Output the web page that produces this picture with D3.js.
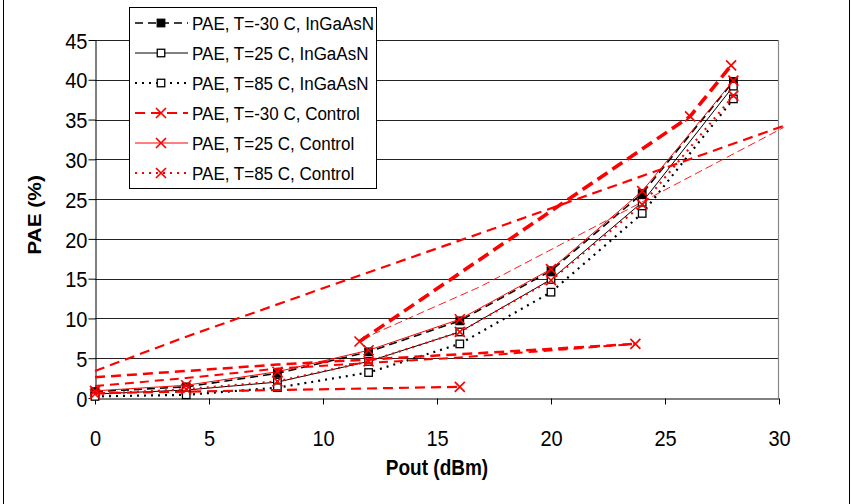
<!DOCTYPE html>
<html>
<head>
<meta charset="utf-8">
<script src="https://cdn.jsdelivr.net/npm/d3@7"></script>
<style>
body { margin: 0; background: #fff; }
svg { display: block; }
</style>
</head>
<body>
<script>
// data
var pout = [0, 4, 8, 12, 16, 20, 24, 28];
var paeInM30 = [0.8, 1.4, 3.1, 5.8, 9.7, 16.0, 25.7, 39.8];
var paeIn25 = [0.5, 1.0, 2.0, 4.6, 8.3, 14.9, 24.6, 39.2];
var paeIn85 = [0.2, 0.4, 1.3, 3.2, 6.8, 13.3, 23.2, 37.6];
var paeCtl25 = [0.9, 1.6, 3.3, 6.0, 9.9, 16.2, 26.0, 39.9];
var paeCtl85 = [0.5, 1.1, 2.1, 4.6, 8.3, 14.8, 24.3, 38.0];

// -30 C control: pieces that are drawn with markers
var ctlM30HighX = [11.6, 26.1, 27.9];
var ctlM30HighY = [7.1, 35.4, 41.8];
var ctlM30LowX = [0, 8, 16];
var ctlM30LowY = [0.6, 1.0, 1.4];
var ctlM30MidX = [0, 8, 16, 23.7];
var ctlM30MidY = [2.6, 4.2, 5.5, 6.8];

// red dashed lines without markers
var trendAX = [0, 4, 10, 17, 30.2];
var trendAY = [3.4, 7.7, 13.8, 20.8, 34.2];
var trendBX = [11.7, 16.9, 23.9, 30.2];
var trendBY = [7.4, 14.0, 24.5, 34.0];
var trendCX = [0, 4, 8, 16, 23.7];
var trendCY = [1.5, 2.5, 3.7, 5.1, 6.8];

var xTicks = [0, 5, 10, 15, 20, 25, 30];
var yTicks = [0, 5, 10, 15, 20, 25, 30, 35, 40, 45];
var legendLabels = [
    'PAE, T=-30 C, InGaAsN',
    'PAE, T=25 C, InGaAsN',
    'PAE, T=85 C, InGaAsN',
    'PAE, T=-30 C, Control',
    'PAE, T=25 C, Control',
    'PAE, T=85 C, Control'
];

var width = 853;
var height = 504;
var stretch = 1.13; // the picture's text is a bit taller than normal
var font = 'Liberation Sans, Arial, sans-serif';

var svg = d3.select('body').append('svg')
    .attr('width', width).attr('height', height)
    .style('font-family', font);

var x = d3.scaleLinear().domain([0, 30]).range([95, 779]);
var y = d3.scaleLinear().domain([0, 45]).range([398, 40]);

function zip(xs, ys) {
    return xs.map(function (d, i) { return [d, ys[i]]; });
}

// outer frame
svg.append('rect')
    .attr('x', 3.5).attr('y', -5)
    .attr('width', 846).attr('height', height + 10)
    .attr('fill', '#fff').attr('stroke', '#000').attr('stroke-width', 1);

// gridlines
svg.append('g').selectAll('line')
    .data(yTicks.filter(function (d) { return d > 0; }))
    .enter().append('line')
    .attr('x1', x(0)).attr('x2', x(30))
    .attr('y1', function (d) { return Math.round(y(d)) + 0.5; })
    .attr('y2', function (d) { return Math.round(y(d)) + 0.5; })
    .attr('stroke', '#222').attr('stroke-width', 1);

// right edge of plot area
svg.append('line')
    .attr('x1', 778.5).attr('x2', 778.5)
    .attr('y1', 40).attr('y2', 398)
    .attr('stroke', '#888').attr('stroke-width', 1.2);

// axes
var xAxis = svg.append('g')
    .attr('transform', 'translate(0,398.5)')
    .call(d3.axisBottom(x).tickValues(xTicks).tickSize(6).tickSizeOuter(0).tickFormat(d3.format('d')));
var yAxis = svg.append('g')
    .attr('transform', 'translate(95.5,0)')
    .call(d3.axisLeft(y).tickValues(yTicks).tickSize(7).tickSizeOuter(0).tickFormat(d3.format('d')));

[xAxis, yAxis].forEach(function (a) {
    a.selectAll('path,line').attr('stroke', '#000').attr('stroke-width', 1);
    a.selectAll('text').attr('font-family', font).attr('font-size', 20).attr('fill', '#000');
});
xAxis.selectAll('text')
    .attr('y', 0).attr('dy', '0.71em')
    .attr('transform', 'translate(0,31) scale(1,' + stretch + ')');
yAxis.selectAll('text')
    .attr('x', 0).attr('dy', '0.36em')
    .attr('transform', 'translate(-8,0) scale(1,' + stretch + ')');

// axis titles
svg.append('text')
    .attr('transform', 'translate(437,467) scale(1,' + stretch + ')')
    .attr('text-anchor', 'middle').attr('dy', '0.36em')
    .attr('font-weight', 'bold').attr('font-size', 19)
    .text('Pout (dBm)');
svg.append('text')
    .attr('transform', 'translate(34,215) rotate(-90) scale(' + stretch + ',1)')
    .attr('text-anchor', 'middle').attr('dy', '0.36em')
    .attr('font-weight', 'bold').attr('font-size', 18.5)
    .text('PAE (%)');

// series styles
var black = '#000';
var red = '#ff0000';
var series = [
    { data: zip(pout, paeInM30), color: black, width: 1.6, dash: '8,5', marker: 'sqFilled' },
    { data: zip(pout, paeIn25), color: black, width: 1, dash: null, marker: 'sqOpen' },
    { data: zip(pout, paeIn85), color: black, width: 2.2, dash: '2,5', marker: 'sqOpen' },
    { data: zip(pout, paeCtl25), color: red, width: 1, dash: null, marker: 'cross' },
    { data: zip(pout, paeCtl85), color: red, width: 2.2, dash: '2,5', marker: 'cross' }
];
var extras = [
    { data: zip(trendAX, trendAY), color: red, width: 2.2, dash: '10,6', marker: null },
    { data: zip(trendBX, trendBY), color: red, width: 0.9, dash: '8,4', marker: null },
    { data: zip(trendCX, trendCY), color: red, width: 2, dash: '9,6', marker: null },
    { data: zip(ctlM30LowX, ctlM30LowY), color: red, width: 2.2, dash: '10,6', marker: 'crossEnd' },
    { data: zip(ctlM30MidX, ctlM30MidY), color: red, width: 2.5, dash: '10,6', marker: 'crossEnd' },
    { data: zip(ctlM30HighX, ctlM30HighY), color: red, width: 3.6, dash: '12,6', marker: 'cross' }
];

var line = d3.line()
    .x(function (d) { return x(d[0]); })
    .y(function (d) { return y(d[1]); });

function drawMarker(g, kind, cx, cy) {
    if (kind === 'sqFilled' || kind === 'sqOpen') {
        g.append('rect')
            .attr('x', cx - 3.75).attr('y', cy - 3.75)
            .attr('width', 7.5).attr('height', 7.5)
            .attr('fill', kind === 'sqFilled' ? '#000' : '#fff')
            .attr('stroke', '#000').attr('stroke-width', 1.3);
    } else {
        var s = 5;
        g.append('path')
            .attr('d', 'M' + (cx - s) + ',' + (cy - s) + 'L' + (cx + s) + ',' + (cy + s) +
                'M' + (cx - s) + ',' + (cy + s) + 'L' + (cx + s) + ',' + (cy - s))
            .attr('stroke', red).attr('stroke-width', 1.7).attr('fill', 'none');
    }
}

function drawSeries(s) {
    var g = svg.append('g');
    g.append('path')
        .attr('d', line(s.data))
        .attr('fill', 'none')
        .attr('stroke', s.color)
        .attr('stroke-width', s.width)
        .attr('stroke-dasharray', s.dash);
    if (!s.marker) return;
    var pts = s.marker === 'crossEnd' ? s.data.slice(-1) : s.data;
    pts.forEach(function (d) {
        drawMarker(g, s.marker === 'crossEnd' ? 'cross' : s.marker, x(d[0]), y(d[1]));
    });
}

series.slice(0, 3).forEach(drawSeries);
extras.forEach(drawSeries);
series.slice(3).forEach(drawSeries);

// legend
var legendStyles = [
    { color: black, width: 1.6, dash: '8,5', marker: 'sqFilled' },
    { color: black, width: 1, dash: null, marker: 'sqOpen' },
    { color: black, width: 2.2, dash: '2,5', marker: 'sqOpen' },
    { color: red, width: 2.2, dash: '10,6', marker: 'cross' },
    { color: red, width: 1, dash: null, marker: 'cross' },
    { color: red, width: 2.2, dash: '2,5', marker: 'cross' }
];
var legend = svg.append('g');
legend.append('rect')
    .attr('x', 129.5).attr('y', 7.5)
    .attr('width', 247).attr('height', 181)
    .attr('fill', '#fff').attr('stroke', '#000').attr('stroke-width', 1);
legendLabels.forEach(function (label, i) {
    var ly = 23 + i * 30;
    var st = legendStyles[i];
    legend.append('line')
        .attr('x1', 135).attr('x2', 188)
        .attr('y1', ly).attr('y2', ly)
        .attr('stroke', st.color).attr('stroke-width', st.width)
        .attr('stroke-dasharray', st.dash);
    drawMarker(legend, st.marker, 161, ly);
    legend.append('text')
        .attr('transform', 'translate(192,' + ly + ') scale(1,' + stretch + ')')
        .attr('dy', '0.36em')
        .attr('font-size', 17)
        .text(label);
});
</script>
</body>
</html>
